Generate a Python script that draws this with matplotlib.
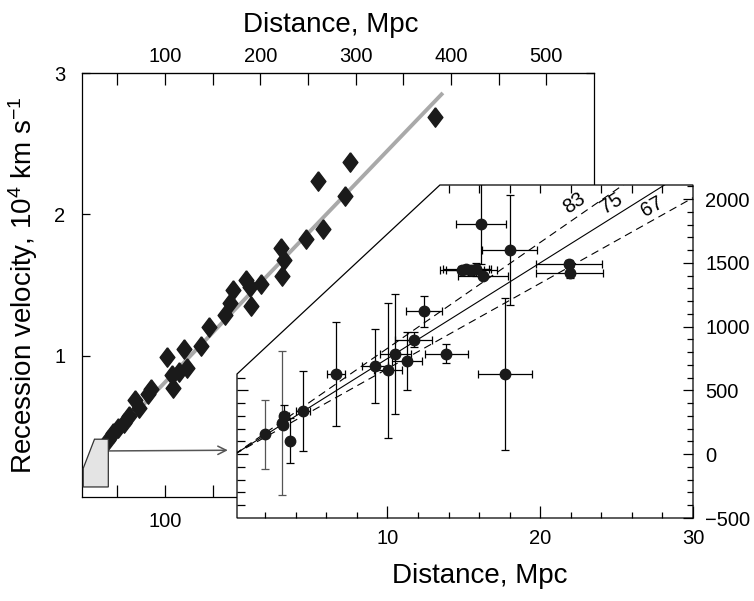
import numpy as np
import matplotlib
matplotlib.use("Agg")
import matplotlib.pyplot as plt
from matplotlib.patches import Polygon

plt.rcParams["font.family"] = ["Liberation Sans", "DejaVu Sans"]
plt.rcParams["mathtext.fontset"] = "custom"
plt.rcParams["mathtext.rm"] = "Liberation Sans"
plt.rcParams["mathtext.it"] = "Liberation Sans:italic"
plt.rcParams["mathtext.bf"] = "Liberation Sans:bold"

# distant galaxies: distance (Mpc), recession velocity (10^4 km/s)
far_dist = [383, 294, 260, 289, 265.5, 247.5, 221.6, 225, 222.3, 200.8, 185.3, 188.8,
            189.8, 171.5, 168, 163.5, 146.3, 138, 119.7, 102.4, 123, 114.5, 107.6,
            108.6, 85.2, 81.7, 68.9, 73, 62.7, 57.5, 50.6, 45.4, 40.2]
far_vel = [2.686, 2.368, 2.233, 2.127, 1.896, 1.827, 1.761, 1.678, 1.565, 1.508, 1.532, 1.485,
           1.348, 1.466, 1.372, 1.289, 1.206, 1.069, 1.046, 0.989, 0.911, 0.887, 0.864,
           0.774, 0.763, 0.729, 0.687, 0.628, 0.574, 0.526, 0.487, 0.451, 0.404]
fit_x = [40, 391.5]
fit_y = [0.39, 2.859]

# nearby galaxies: distance (Mpc), velocity (km/s) with errors
near_dist = [1.98, 3.1, 3.25, 3.15, 3.61, 4.49, 6.62, 9.17, 10.04, 10.52, 11.28, 11.72,
             12.39, 13.86, 16.14, 17.99, 17.67, 21.87, 21.92, 14.9, 15.15, 15.5, 15.8, 16.25]
near_vel = [156, 246, 297, 230, 104, 339, 630, 690, 659, 786, 729, 898,
            1120, 789, 1805, 1602, 630, 1490, 1424, 1445, 1448, 1440, 1450, 1393]
near_xerr = [0, 0, 0.3, 0, 0, 0.45, 0.6, 0.87, 0.9, 1.0, 1.0, 1.2,
             1.2, 1.4, 1.63, 1.8, 1.77, 2.17, 2.2, 1.45, 1.5, 1.7, 1.0, 1.65]
near_yerr = [270, 566, 86, 0, 176, 313, 410, 290, 530, 470, 225, 56,
             120, 72, 315, 430, 595, 33, 44, 30, 30, 35, 50, 0]
gray_bars = [0, 1]

hubble = [83, 75, 67]
hubble_styles = [(0, (7, 4.5)), "-", (0, (7, 4.5))]
label_x = [22.7, 25.1, 27.7]

W, H = 754, 601
TICK_FS = 14.5


def rect(l, t, r, b):
    return [l / W, 1 - b / H, (r - l) / W, (b - t) / H]


fig = plt.figure(figsize=(W / 100, H / 100), dpi=100)

# ---- main panel
ax = fig.add_axes(rect(82, 73, 594, 497))
ax.set_xlim(13, 543)
ax.set_ylim(0, 3)
for s in ax.spines.values():
    s.set_linewidth(0.9)

ax.plot(fit_x, fit_y, color="#a9a9a9", lw=2.8, solid_capstyle="butt", zorder=2)
diamond = [(0, 1), (0.76, 0), (0, -1), (-0.76, 0), (0, 1)]
ax.plot(far_dist, far_vel, ls="none", marker=diamond, ms=14, color="#1a1a1a", zorder=3)

# small sketch of the inset region
box_x = [14.3, 26.1, 40.6, 40.6, 14.3]
box_y = [0.203, 0.409, 0.409, 0.071, 0.071]
ax.add_patch(Polygon(list(zip(box_x, box_y)), closed=True, facecolor="#e4e4e4",
                     edgecolor="#333333", lw=0.9, zorder=4))

ax.set_xticks([100])
ax.set_xticks(np.arange(50, 551, 50), minor=True)
ax.tick_params(axis="x", which="both", direction="in", length=8.5, width=0.9,
               top=False, bottom=True, labelsize=TICK_FS, pad=11)
ax.set_yticks([1, 2, 3])
ax.tick_params(axis="y", which="both", direction="in", length=6, width=0.9,
               left=True, right=True, labelsize=TICK_FS, pad=12)
ax.set_ylabel(r"Recession velocity, 10$^4$ km s$^{-1}$", fontsize=20, labelpad=10)

top = ax.secondary_xaxis("top")
top.set_xticks(np.arange(100, 501, 100))
top.set_xticks(np.arange(50, 500, 100), minor=True)
top.tick_params(which="both", direction="in", length=8.5, width=0.9, labelsize=TICK_FS, pad=5)
top.set_xlabel("Distance, Mpc", fontsize=20, labelpad=11)
top.xaxis.label.set_x(0.486)

# ---- inset panel
ax2 = fig.add_axes(rect(237, 185, 693, 518), zorder=2)
ax2.set_xlim(0.15, 30)
ax2.set_ylim(-500, 2110)
ax2.patch.set_visible(False)
for s in ax2.spines.values():
    s.set_visible(False)
cut_x, cut_y = 0.445, 0.4324
ax2.add_patch(Polygon([(0, 0), (1, 0), (1, 1), (cut_x, 1), (0, cut_y)], closed=True,
                      transform=ax2.transAxes, facecolor="white", edgecolor="black",
                      lw=0.9, zorder=-1, clip_on=False))

xs = np.array([0, 30])
for h, ls in zip(hubble, hubble_styles):
    ax2.plot(xs, h * xs, color="black", lw=0.8, ls=ls, zorder=1)

for i in range(len(near_dist)):
    c = "#555555" if i in gray_bars else "black"
    ax2.errorbar(near_dist[i], near_vel[i],
                 xerr=near_xerr[i] if near_xerr[i] > 0 else None,
                 yerr=near_yerr[i] if near_yerr[i] > 0 else None,
                 fmt="o", ms=7.5, color="#1a1a1a", ecolor=c, elinewidth=0.9,
                 capsize=3.2, capthick=0.9, zorder=3)

for h, lx in zip(hubble, label_x):
    p0 = ax2.transData.transform((lx, h * lx))
    p1 = ax2.transData.transform((lx + 1, h * (lx + 1)))
    ang = np.degrees(np.arctan2(p1[1] - p0[1], p1[0] - p0[0]))
    off = 9
    dx = -np.sin(np.radians(ang)) * off
    dy = np.cos(np.radians(ang)) * off
    ax2.annotate(str(h), xy=(lx, h * lx), xytext=(dx, dy), textcoords="offset points",
                 rotation=ang, rotation_mode="anchor", ha="center", va="center",
                 fontsize=TICK_FS)

ax2.set_xticks([10, 20, 30])
ax2.set_xticks(np.arange(2, 30, 2), minor=True)
ax2.tick_params(axis="x", which="major", length=8.5, pad=8)
ax2.tick_params(axis="x", which="minor", length=4.5)
ax2.tick_params(axis="x", which="both", direction="in", width=0.9, top=False,
                bottom=True, labelsize=TICK_FS)
ax2.yaxis.tick_right()
ax2.set_yticks(np.arange(-500, 2001, 500))
ax2.set_yticks(np.arange(-400, 2101, 100), minor=True)
ax2.tick_params(axis="y", which="major", length=7.5, pad=9)
ax2.tick_params(axis="y", which="minor", length=4.2)
ax2.tick_params(axis="y", which="both", direction="in", width=0.9, left=False,
                right=True, labelsize=TICK_FS)
ax2.set_xlabel("Distance, Mpc", fontsize=20, labelpad=11)
ax2.xaxis.label.set_x(0.533)

top2 = ax2.secondary_xaxis("top")
top2.spines["top"].set_visible(False)
top2.set_xticks(np.arange(14, 29, 2))
top2.tick_params(direction="in", length=5.5, width=0.9, labeltop=False)

left2 = ax2.secondary_yaxis("left")
left2.spines["left"].set_visible(False)
left2.set_yticks([0, 500])
left2.set_yticks([-400, -300, -200, -100, 100, 200, 300, 400, 600], minor=True)
left2.tick_params(which="major", length=8)
left2.tick_params(which="minor", length=5.5)
left2.tick_params(which="both", direction="in", width=0.9, labelleft=False)

# arrow from the sketch box to the inset
ax.annotate("", xy=(-0.45, 31), xycoords=ax2.transData,
            xytext=(box_x[2], 0.326), textcoords=ax.transData,
            arrowprops=dict(arrowstyle="->,head_length=0.6,head_width=0.3",
                            color="#555555", lw=1.1, shrinkA=0, shrinkB=0,
                            mutation_scale=10),
            annotation_clip=False)

fig.savefig("out.png", dpi=100)
